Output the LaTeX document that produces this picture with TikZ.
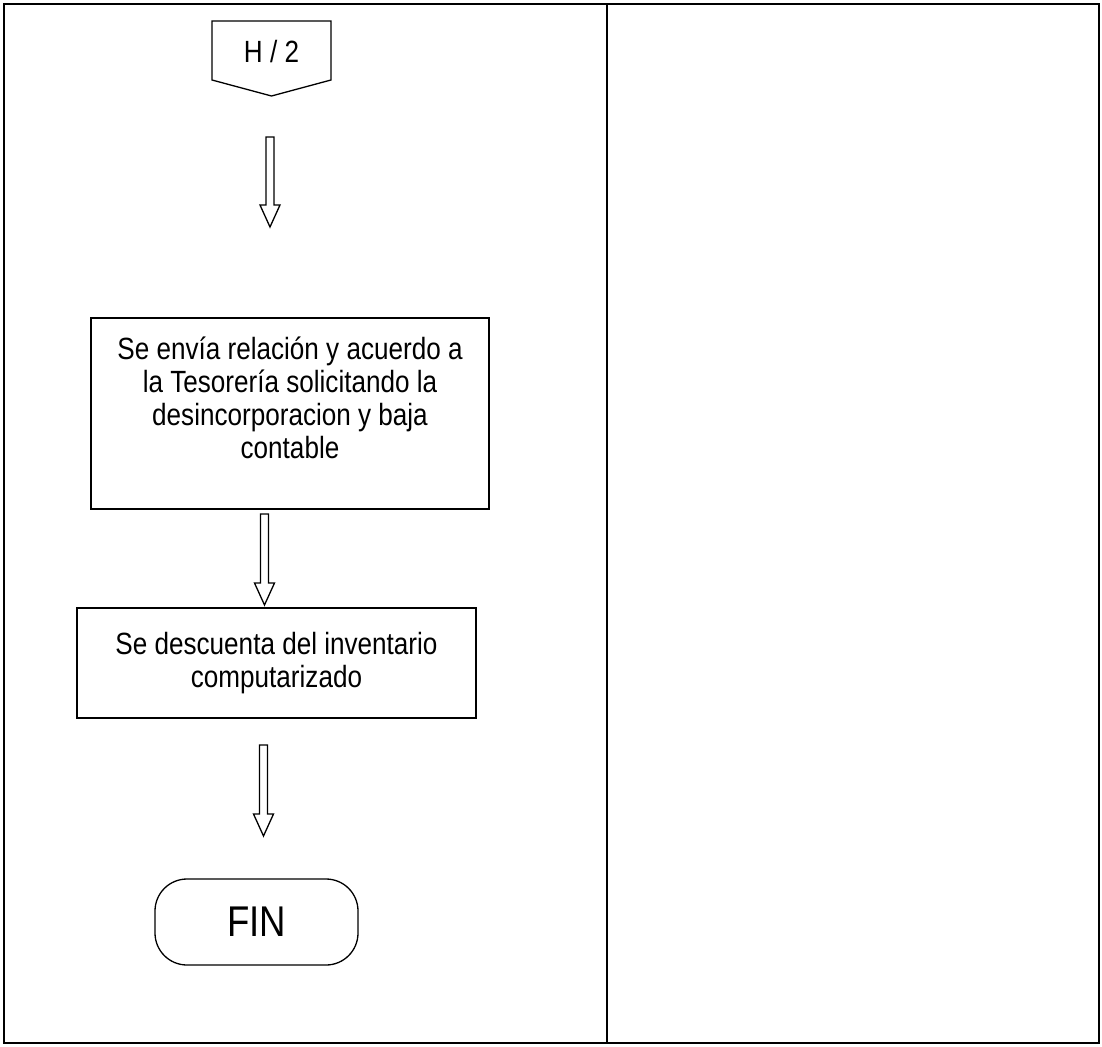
\documentclass[tikz,border=0pt]{standalone}
\usepackage{fontspec}
\setmainfont{Liberation Sans}[FakeStretch=0.85]
\usepackage{xcolor}
\usepackage{tikz}
\usetikzlibrary{calc}
\definecolor{ink}{HTML}{000000}
\tikzset{
  frame/.style={draw=ink, line width=2pt},
  shp/.style={draw=ink, line width=1.3pt, line join=miter},
  proc/.style={shp, rectangle, inner sep=0pt, align=center,
    font=\fontsize{30.7}{33}\selectfont},
  term/.style={proc, rounded corners=32pt, font=\fontsize{43}{46}\selectfont},
  lab/.style={inner sep=0pt, align=center, font=\fontsize{30.7}{33}\selectfont},
  hollow/.style={shp, fill=white},
}
% block arrow from top of shaft to tip
\newcommand{\hollowarrow}[2]{%
  \draw[hollow] ($(#1)+(-4,0)$) -- ($(#2)+(-4,-22)$) -- ($(#2)+(-10,-22)$)
    -- (#2) -- ($(#2)+(10,-22)$) -- ($(#2)+(4,-22)$) -- ($(#1)+(4,0)$) -- cycle;}

\begin{document}
\begin{tikzpicture}[x=1pt,y=-1pt]
  \useasboundingbox (0,0) rectangle (1102,1046);
  \draw[frame] (4,4) rectangle (1099,1043);
  \draw[frame] (607,4) -- (607,1043);

  % connector from previous page
  \node[lab, anchor=base] (h2) at (271.5,63) {H / 2};
  \draw[shp] (212,21) -- (331,21) -- (331,80) -- (271.5,96) -- (212,80) -- cycle;

  \node[proc, minimum width=398pt, minimum height=191pt] (envio) at (290,413.5) {};
  \node[lab] (enviotxt) at (290,398)
    {Se envía relación y acuerdo a\\la Tesorería solicitando la\\desincorporacion y baja\\contable};
  \node[proc, minimum width=399pt, minimum height=110pt] (descuento) at (276.5,663)
    {Se descuenta del inventario\\computarizado};
  \node[term, minimum width=203pt, minimum height=86pt] (fin) at (256.5,922) {FIN};

  \coordinate (a1s) at (270,137);   \coordinate (a1t) at (270,227);
  \coordinate (a2s) at (264.5,514); \coordinate (a2t) at (264.5,605);
  \coordinate (a3s) at (263.5,745); \coordinate (a3t) at (263.5,836);
  \hollowarrow{a1s}{a1t}
  \hollowarrow{a2s}{a2t}
  \hollowarrow{a3s}{a3t}
\end{tikzpicture}
\end{document}
